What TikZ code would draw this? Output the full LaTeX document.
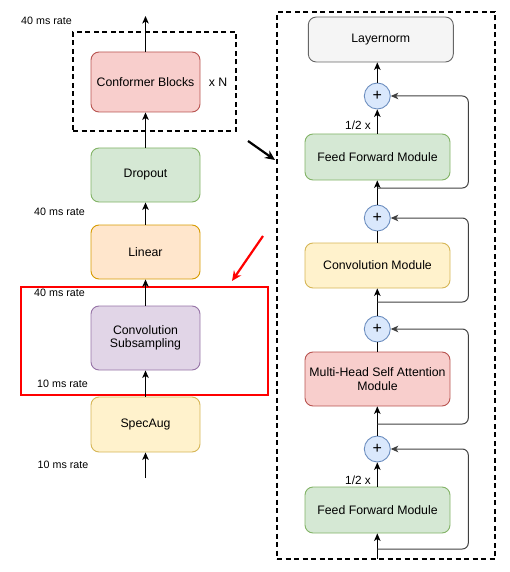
\documentclass[tikz,border=0pt]{standalone}
\usepackage{fontspec}
\setmainfont{Liberation Sans}
\usetikzlibrary{arrows.meta,calc}
\definecolor{redF}{HTML}{F8CECC}\definecolor{redD}{HTML}{B85450}
\definecolor{grnF}{HTML}{D5E8D4}\definecolor{grnD}{HTML}{82B366}
\definecolor{orgF}{HTML}{FFE6CC}\definecolor{orgD}{HTML}{D79B00}
\definecolor{purF}{HTML}{E1D5E7}\definecolor{purD}{HTML}{9673A6}
\definecolor{yelF}{HTML}{FFF2CC}\definecolor{yelD}{HTML}{D6B656}
\definecolor{gryF}{HTML}{F5F5F5}\definecolor{gryD}{HTML}{666666}
\definecolor{bluF}{HTML}{DAE8FC}\definecolor{bluD}{HTML}{6C8EBF}
\definecolor{hiRed}{HTML}{FF0000}
\tikzset{
  blk/.style={rounded corners=8pt, line width=0.9pt, align=center, inner sep=2pt,
    font=\fontsize{12.3}{14.5}\selectfont},
  lbox/.style={blk, minimum width=109pt},
  rbox/.style={blk, minimum width=145pt},
  plusnode/.style={circle, draw=bluD, fill=bluF, line width=0.9pt, minimum size=26pt, inner sep=0pt,
    font=\fontsize{16}{16}\selectfont},
  ratelbl/.style={font=\fontsize{10.7}{12}\selectfont, inner sep=0pt},
  arr/.style={-{Stealth[length=7.5pt,width=6.5pt,inset=2pt]}, line width=1pt},
  plain/.style={line width=1pt},
  skip/.style={-{Stealth[length=7.5pt,width=6.5pt,inset=2pt]}, line width=1pt, draw=black!75, rounded corners=6pt},
  dashbox/.style={draw, dashed, dash pattern=on 5pt off 3.5pt, line width=1.5pt, inner sep=0pt},
}
\begin{document}
\begin{tikzpicture}[x=1pt,y=-1pt]
\useasboundingbox (0,0) rectangle (509,572);

% ---------- left column ----------
\node[dashbox, minimum width=163pt, minimum height=99pt] (dbox) at (154.5,81.5) {};
\node[draw=hiRed, line width=2pt, minimum width=247pt, minimum height=108pt, inner sep=0pt] (redbox) at (144.5,341) {};

\node[lbox, draw=redD, fill=redF, minimum height=60pt] (conf) at (145.5,82) {Conformer Blocks};
\node[lbox, draw=grnD, fill=grnF, minimum height=54pt] (drop) at (145.5,175) {Dropout};
\node[lbox, draw=orgD, fill=orgF, minimum height=54pt] (lin) at (145.5,252) {Linear};
\node[lbox, draw=purD, fill=purF, minimum height=64pt] (csub) at (145.5,338) {Convolution\\[-1pt]Subsampling};
\node[lbox, draw=yelD, fill=yelF, minimum height=55pt] (spec) at (145.5,424.5) {SpecAug};

\node[font=\fontsize{12.3}{14}\selectfont] (xn) at (218,82) {x N};
\node[ratelbl] (r1) at (46.5,21) {40 ms rate};
\node[ratelbl] (r2) at (59.5,212) {40 ms rate};
\node[ratelbl] (r3) at (59.5,293) {40 ms rate};
\node[ratelbl] (r4) at (62.5,384) {10 ms rate};
\node[ratelbl] (r5) at (63,465) {10 ms rate};

\coordinate (ltop) at (145.5,16);
\coordinate (lbot) at (145.5,478);
\draw[arr] (conf) -- (ltop);
\draw[arr] (drop) -- (conf);
\draw[arr] (lin) -- (drop);
\draw[arr] (csub) -- (lin);
\draw[arr] (spec) -- (csub);
\draw[arr] (lbot) -- (spec);

% pointer arrows
\coordinate (ba1) at (248,141);
\coordinate (ba2) at (275,160);
\draw[-{Stealth[length=10pt,width=9pt]}, line width=2.2pt] (ba1) -- (ba2);
\coordinate (ra1) at (263,236);
\coordinate (ra2) at (232,281);
\draw[-{Stealth[length=10pt,width=9pt]}, line width=2.2pt, draw=hiRed] (ra1) -- (ra2);

% ---------- right column ----------
\node[dashbox, minimum width=218pt, minimum height=547pt] (obox) at (386,285.5) {};

\node[rbox, draw=gryD, fill=gryF, minimum height=45pt] (ln) at (380.8,39.5) {Layernorm};
\node[plusnode] (p1) at (377.3,96) {+};
\node[rbox, draw=grnD, fill=grnF, minimum height=46pt] (ff2) at (377.5,157) {Feed Forward Module};
\node[plusnode] (p2) at (377.3,218) {+};
\node[rbox, draw=yelD, fill=yelF, minimum height=45pt] (cm) at (377.5,265.5) {Convolution Module};
\node[plusnode] (p3) at (377.3,329) {+};
\node[rbox, draw=redD, fill=redF, minimum height=54pt] (mh) at (377.5,379) {Multi-Head Self Attention\\[-1pt]Module};
\node[plusnode] (p4) at (377.3,449) {+};
\node[rbox, draw=grnD, fill=grnF, minimum height=46pt] (ff1) at (377.5,510) {Feed Forward Module};

\node[font=\fontsize{11.8}{13}\selectfont, anchor=east, inner sep=0pt] (h2) at (371,125) {1/2 x};
\node[font=\fontsize{11.8}{13}\selectfont, anchor=east, inner sep=0pt] (h1) at (371,480) {1/2 x};

\coordinate (j1) at (377.3,188);
\coordinate (j2) at (377.3,302);
\coordinate (j3) at (377.3,424);
\coordinate (j4) at (377.3,549);
\coordinate (rb) at (377.3,559);

\draw[arr] (p1) -- (ln.south -| p1);
\draw[arr] (ff2.north -| p1) -- (p1);
\draw[arr] (p2) -- (ff2.south -| p2);
\draw[plain] (cm.north -| p2) -- (p2);
\draw[arr] (p3) -- (cm.south -| p3);
\draw[plain] (mh.north -| p3) -- (p3);
\draw[arr] (p4) -- (mh.south -| p4);
\draw[arr] (ff1.north -| p4) -- (p4);
\draw[arr] (rb) -- (ff1.south -| rb);

\draw[skip] (j1) -- ++(91,0) |- (p1.east);
\draw[skip] (j2) -- ++(91,0) |- (p2.east);
\draw[skip] (j3) -- ++(91,0) |- (p3.east);
\draw[skip] (j4) -- ++(91,0) |- (p4.east);
\end{tikzpicture}
\end{document}
